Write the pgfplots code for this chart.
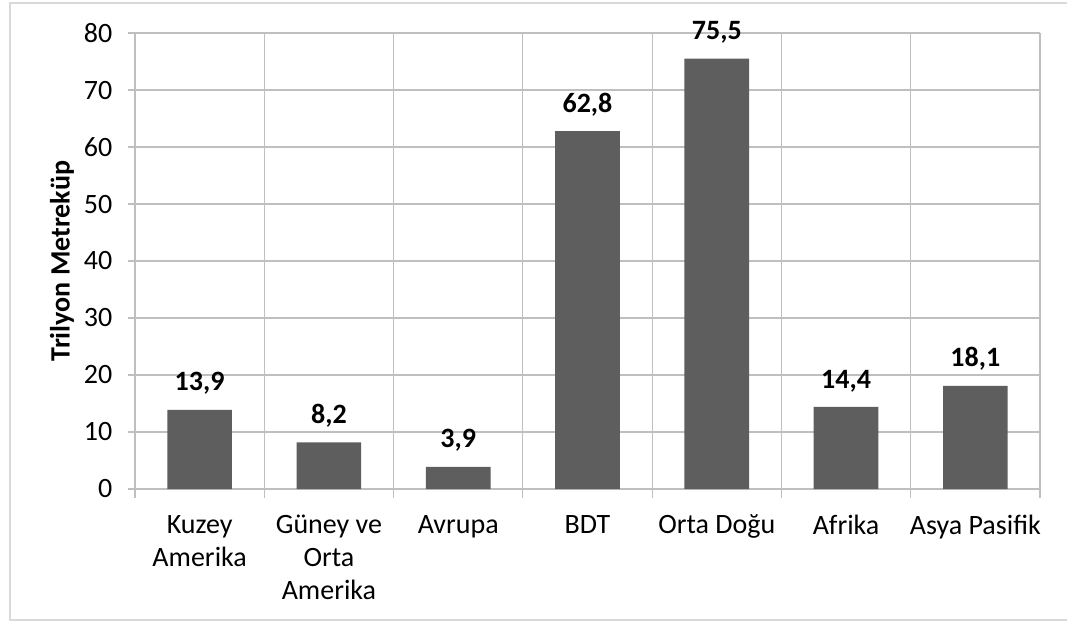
\documentclass[border=0pt]{standalone}
\usepackage{pgfplots}
\pgfplotsset{compat=1.18}
\usepackage{fontspec}
\setmainfont{Carlito}
\definecolor{barc}{HTML}{5E5E5E}
\definecolor{gridc}{HTML}{BFBFBF}
\definecolor{framec}{HTML}{D9D9D9}
\begin{document}
\begin{tikzpicture}
\useasboundingbox (0,0) rectangle (533.5pt,311pt);
\fill[white] (0,0) rectangle (533.5pt,311pt);
\draw[framec, line width=0.6pt] (533.5pt,309.5pt) -- (5pt,309.5pt) -- (5pt,1pt) -- (533.5pt,1pt);
\begin{axis}[
  at={(67.5pt,66.5pt)}, anchor=south west,
  scale only axis, width=452.5pt, height=228pt,
  font=\fontsize{14}{16.5}\selectfont,
  /pgf/number format/assume math mode=true,
  ybar, bar width=0.5,
  xmin=-0.5, xmax=6.5, ymin=0, ymax=80,
  ytick={0,10,...,80},
  xtick={0,...,6},
  xticklabels={{Kuzey\\Amerika},{Güney ve\\Orta\\Amerika},{Avrupa},{BDT},{Orta Doğu},{Afrika},{Asya Pasifik}},
  xticklabel style={align=center, text depth=0pt, yshift=-6pt},
  yticklabel style={xshift=-4.3pt},
  major x tick style={draw=none},
  minor xtick={-0.5,0.5,...,6.5},
  xminorgrids, ymajorgrids,
  grid style={gridc, line width=0.6pt},
  minor grid style={gridc, line width=0.6pt},
  axis line style={gridc, line width=0.6pt},
  tick style={gridc, line width=0.6pt},
  tick align=outside,
  major tick length=3.5pt, minor tick length=4.5pt,
  axis x line*=bottom, axis y line*=left,
  ylabel={\textbf{Trilyon Metreküp}},
  every axis y label/.style={at={(axis description cs:-0.0807,0.5)}, rotate=90, anchor=center, font=\fontsize{14}{16.5}\selectfont},
  nodes near coords,
  nodes near coords style={font=\fontsize{14}{16.5}\selectfont\bfseries, anchor=south, yshift=4pt,
    /pgf/number format/.cd, use comma, fixed, fixed zerofill, precision=1, assume math mode=true},
  clip=false,
]
\addplot[fill=barc, draw=none] coordinates {(0,13.9) (1,8.2) (2,3.9) (3,62.8) (4,75.5) (5,14.4) (6,18.1)};
\draw[gridc, line width=0.6pt] (axis cs:-0.5,80) -- (axis cs:6.5,80);
\draw[gridc, line width=0.6pt] (axis cs:6.5,0) -- (axis cs:6.5,80);
\end{axis}
\end{tikzpicture}
\end{document}
